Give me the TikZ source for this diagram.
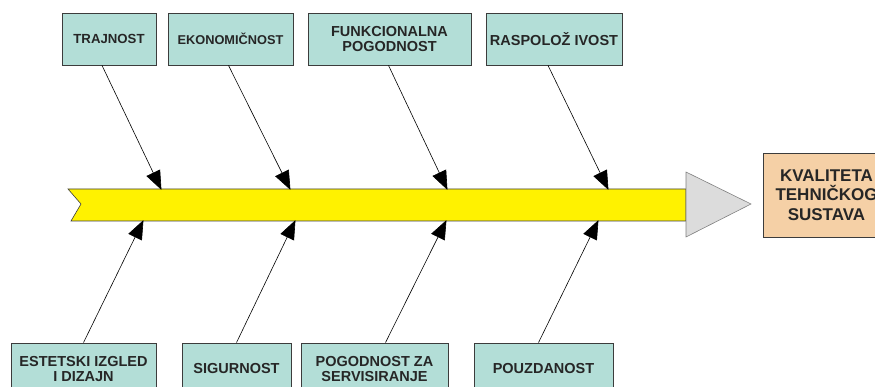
\documentclass[tikz,border=0pt]{standalone}
\usepackage{fontspec}
\setmainfont{Liberation Sans}
\usetikzlibrary{arrows.meta}

\definecolor{boxteal}{RGB}{179,222,215}
\definecolor{boxpeach}{RGB}{245,208,166}
\definecolor{headgray}{RGB}{220,220,220}
\definecolor{edgegray}{RGB}{60,60,60}

\tikzset{
  factor/.style={draw=edgegray, line width=0.8pt, fill=boxteal, inner sep=0pt,
    align=center, text=black!85, font=\bfseries\fontsize{14.5}{14.5}\selectfont},
  result/.style={draw=edgegray, line width=0.8pt, fill=boxpeach, inner sep=0pt,
    align=center, text=black!85, font=\bfseries\fontsize{17}{19.5}\selectfont},
  cause/.style={line width=0.6pt, -{Triangle[length=19pt,width=15pt]}, shorten >=-1pt},
}

\begin{document}
\begin{tikzpicture}[x=1pt,y=-1pt]
\useasboundingbox (0,0) rectangle (875,387);
\clip (0,0) rectangle (875,387);
% spine of the fishbone
\draw[edgegray, fill=yellow, line width=0.6pt] (68,189) -- (686,189) -- (686,221) -- (71,221) -- (81,204) -- cycle;
\draw[gray, fill=headgray, line width=0.6pt] (686,172) -- (751,204) -- (686,237) -- cycle;
% effect
\node[result, minimum width=127pt, minimum height=84pt] (kvaliteta) at (826.5,195) {KVALITETA\\TEHNIČKOG\\SUSTAVA};
% upper causes
\node[factor, minimum width=94pt, minimum height=52pt, font=\bfseries\fontsize{13.2}{14}\selectfont] (trajnost) at (109,39) {TRAJNOST};
\node[factor, minimum width=125pt, minimum height=52pt, font=\bfseries\fontsize{12.8}{14}\selectfont] (ekonomicnost) at (230.5,39) {EKONOMIČNOST};
\node[factor, minimum width=163pt, minimum height=52pt] (funkcionalna) at (389.5,39) {FUNKCIONALNA\\POGODNOST};
\node[factor, minimum width=136pt, minimum height=52pt] (raspolozivost) at (554,39) {RASPOLOŽ IVOST};
% lower causes
\node[factor, minimum width=145pt, minimum height=52pt] (estetski) at (83.5,369) {ESTETSKI IZGLED\\I DIZAJN};
\node[factor, minimum width=109pt, minimum height=52pt] (sigurnost) at (236.5,369) {SIGURNOST};
\node[factor, minimum width=147pt, minimum height=52pt] (servis) at (374.5,369) {POGODNOST ZA\\SERVISIRANJE};
\node[factor, minimum width=139pt, minimum height=52pt] (pouzdanost) at (543.5,369) {POUZDANOST};
% where the arrows meet the spine
\coordinate (t1) at (161,189);
\coordinate (t2) at (290,189);
\coordinate (t3) at (447,189);
\coordinate (t4) at (608,189);
\coordinate (b1) at (143,221);
\coordinate (b2) at (295,221);
\coordinate (b3) at (446,221);
\coordinate (b4) at (598,221);
\draw[cause] ([xshift=-7pt]trajnost.south) -- (t1);
\draw[cause] ([xshift=-2pt]ekonomicnost.south) -- (t2);
\draw[cause] ([xshift=-1pt]funkcionalna.south) -- (t3);
\draw[cause] ([xshift=-6pt]raspolozivost.south) -- (t4);
\draw[cause] (estetski.north) -- (b1);
\draw[cause] (sigurnost.north) -- (b2);
\draw[cause] ([xshift=11pt]servis.north) -- (b3);
\draw[cause] ([xshift=-5pt]pouzdanost.north) -- (b4);
\end{tikzpicture}
\end{document}
